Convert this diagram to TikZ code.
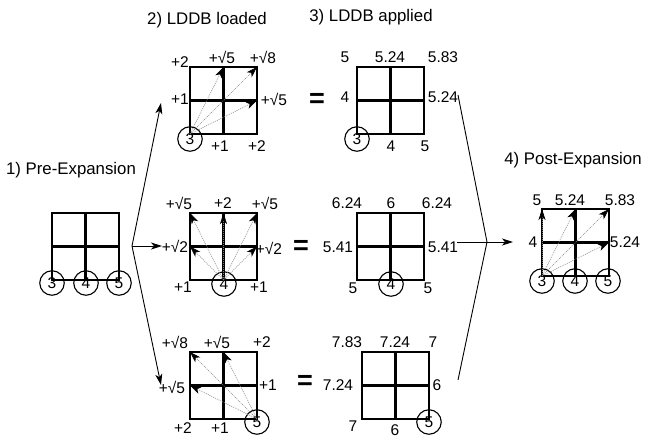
\documentclass[tikz,border=0pt]{standalone}
\usepackage{fontspec}
\setmainfont{Liberation Sans}
\usetikzlibrary{arrows.meta}
\tikzset{
 lbl/.style={font=\fontsize{15.5}{17}\selectfont, inner sep=0pt},
 ttl/.style={font=\fontsize{16.8}{19}\selectfont, inner sep=0pt},
 eqs/.style={font=\fontsize{27}{29}\selectfont\bfseries, inner sep=0pt},
 cnum/.style={circle, draw, line width=1.1pt, minimum size=24.5pt, inner sep=0pt, font=\fontsize{15.5}{17}\selectfont},
 outerln/.style={line width=1.4pt},
 innerln/.style={line width=2.2pt},
 darr/.style={draw=gray, line width=0.6pt, dash pattern=on 1pt off 1pt, -{Stealth[black,length=11pt,width=7pt,inset=3pt]}},
 conn/.style={line width=0.9pt, -{Stealth[length=11pt,width=7pt,inset=3pt]}},
 plainln/.style={line width=0.9pt},
}
\newcommand\mygrid[3]{%
 \draw[innerln] (#2+33.5,#3) -- (#2+33.5,#3+67) (#2,#3+33.5) -- (#2+67,#3+33.5);
 \draw[outerln] (#2,#3) rectangle (#2+67,#3+67);
 \coordinate (#1-tl) at (#2,#3);
 \coordinate (#1-tm) at (#2+33.5,#3);
 \coordinate (#1-tr) at (#2+67,#3);
 \coordinate (#1-ml) at (#2,#3+33.5);
 \coordinate (#1-mr) at (#2+67,#3+33.5);
 \coordinate (#1-bl) at (#2,#3+67);
 \coordinate (#1-bm) at (#2+33.5,#3+67);
 \coordinate (#1-br) at (#2+67,#3+67);
}
\begin{document}
\begin{tikzpicture}[x=1pt,y=-1pt]
\useasboundingbox (0,0) rectangle (645,439);

% titles
\node[ttl] (t1) at (71,170) {1) Pre-Expansion};
\node[ttl] (t2) at (207,20) {2) LDDB loaded};
\node[ttl] (t3) at (371,17) {3) LDDB applied};
\node[ttl] (t4) at (573,160) {4) Post-Expansion};

% grids
\mygrid{pre}{52}{213}
\mygrid{la}{190}{67}
\mygrid{lb}{190}{213}
\mygrid{lc}{190}{352}
\mygrid{aa}{357}{67}
\mygrid{ab}{357}{213}
\mygrid{ac}{362}{352}
\mygrid{po}{542}{209}

% circles
\node[cnum] (pc3) at (52,283) {3};
\node[cnum] (pc4) at (86,283) {4};
\node[cnum] (pc5) at (119,283) {5};
\node[cnum] (lac) at (190,139) {3};
\node[cnum] (lbc) at (224,284) {4};
\node[cnum] (lcc) at (257,422) {5};
\node[cnum] (aac) at (357,139) {3};
\node[cnum] (abc) at (391,284) {4};
\node[cnum] (acc) at (429,422) {5};
\node[cnum] (po3) at (542,281) {3};
\node[cnum] (po4) at (575,281) {4};
\node[cnum] (po5) at (608,281) {5};

% dotted arrows
\draw[darr] (la-bl) -- (la-tm);
\draw[darr] (la-bl) -- (la-tr);
\draw[darr] (la-bl) -- (la-mr);
\draw[darr] (lb-bm) -- (lb-tl);
\draw[darr] (lb-bm) -- (lb-tm);
\draw[darr] (lb-bm) -- (lb-tr);
\draw[darr] (lb-bm) -- (lb-ml);
\draw[darr] (lb-bm) -- (lb-mr);
\draw[darr] (lc-br) -- (lc-tl);
\draw[darr] (lc-br) -- (lc-tm);
\draw[darr] (lc-br) -- (lc-ml);
\draw[darr] (po-bl) -- (po-tl);
\draw[darr] (po-bl) -- (po-tm);
\draw[darr] (po-bl) -- (po-tr);
\draw[darr] (po-bl) -- (po-mr);

% labels LDDB loaded
\node[lbl] (la1) at (180,62) {+2};
\node[lbl] (la2) at (222,57) {+√5};
\node[lbl] (la3) at (263,57) {+√8};
\node[lbl] (la4) at (180,99) {+1};
\node[lbl] (la5) at (274,99) {+√5};
\node[lbl] (la6) at (220,146) {+1};
\node[lbl] (la7) at (257,146) {+2};

\node[lbl] (lb1) at (179,203) {+√5};
\node[lbl] (lb2) at (223,203) {+2};
\node[lbl] (lb3) at (265,203) {+√5};
\node[lbl] (lb4) at (175,246) {+√2};
\node[lbl] (lb5) at (269,248) {+√2};
\node[lbl] (lb6) at (183,287) {+1};
\node[lbl] (lb7) at (259,287) {+1};

\node[lbl] (lc1) at (175,342) {+√8};
\node[lbl] (lc2) at (217,342) {+√5};
\node[lbl] (lc3) at (262,342) {+2};
\node[lbl] (lc4) at (172,387) {+√5};
\node[lbl] (lc5) at (268,385) {+1};
\node[lbl] (lc6) at (183,428) {+2};
\node[lbl] (lc7) at (220,428) {+1};

% labels LDDB applied
\node[lbl] (aa1) at (345,57) {5};
\node[lbl] (aa2) at (390,57) {5.24};
\node[lbl] (aa3) at (443,57) {5.83};
\node[lbl] (aa4) at (345,97) {4};
\node[lbl] (aa5) at (443,97) {5.24};
\node[lbl] (aa6) at (391,146) {4};
\node[lbl] (aa7) at (425,146) {5};

\node[lbl] (ab1) at (347,203) {6.24};
\node[lbl] (ab2) at (391,203) {6};
\node[lbl] (ab3) at (437,203) {6.24};
\node[lbl] (ab4) at (338,247) {5.41};
\node[lbl] (ab5) at (443,247) {5.41};
\node[lbl] (ab6) at (353,288) {5};
\node[lbl] (ab7) at (428,288) {5};

\node[lbl] (ac1) at (347,342) {7.83};
\node[lbl] (ac2) at (395,342) {7.24};
\node[lbl] (ac3) at (433,342) {7};
\node[lbl] (ac4) at (338,385) {7.24};
\node[lbl] (ac5) at (437,385) {6};
\node[lbl] (ac6) at (353,426) {7};
\node[lbl] (ac7) at (395,430) {6};

% labels post
\node[lbl] (po1) at (537,200) {5};
\node[lbl] (po2) at (570,200) {5.24};
\node[lbl] (po3l) at (620,200) {5.83};
\node[lbl] (po4l) at (533,242) {4};
\node[lbl] (po5l) at (625,242) {5.24};

% equals
\node[eqs] (e1) at (317,100) {=};
\node[eqs] (e2) at (301,247) {=};
\node[eqs] (e3) at (305,382) {=};

% connectors
\coordinate (split) at (132,246);
\coordinate (tipa) at (161,103);
\coordinate (tipb) at (162,246);
\coordinate (tipc) at (161,385);
\draw[conn] (split) -- (tipa);
\draw[conn] (split) -- (tipb);
\draw[conn] (split) -- (tipc);

\coordinate (join) at (487,242);
\coordinate (fromA) at (458,95);
\coordinate (fromB) at (457,242);
\coordinate (fromC) at (458,380);
\coordinate (tipd) at (513,242);
\draw[plainln] (fromA) -- (join);
\draw[plainln] (fromC) -- (join);
\draw[conn] (fromB) -- (tipd);
\end{tikzpicture}
\end{document}
